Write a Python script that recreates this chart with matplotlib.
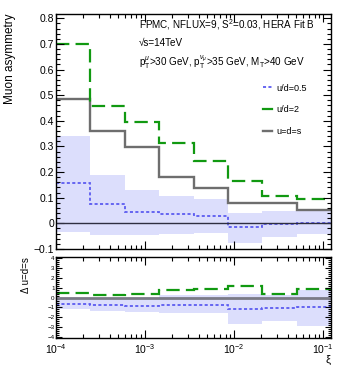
import numpy as np
import matplotlib
matplotlib.use("Agg")
import matplotlib.pyplot as plt
from matplotlib.lines import Line2D
from matplotlib.ticker import MultipleLocator, LogLocator, NullFormatter

plt.rcParams['font.family'] = ['Liberation Sans', 'DejaVu Sans']
plt.rcParams['mathtext.fontset'] = 'custom'
plt.rcParams['mathtext.rm'] = 'Liberation Sans'
plt.rcParams['mathtext.it'] = 'Liberation Sans:italic'

# xi bin edges
edges = [1.0e-4, 2.43e-4, 5.9e-4, 1.44e-3, 3.5e-3, 8.5e-3, 2.07e-2, 5.03e-2, 0.1222]

# muon asymmetry per bin
asym_ud05 = [0.156, 0.074, 0.045, 0.036, 0.027, -0.016, -0.003, 0.000]
asym_ud2 = [0.700, 0.458, 0.397, 0.312, 0.245, 0.165, 0.107, 0.094]
asym_uds = [0.487, 0.362, 0.298, 0.182, 0.137, 0.081, 0.081, 0.052]
band_hi = [0.341, 0.189, 0.130, 0.108, 0.094, 0.039, 0.048, 0.055]
band_lo = [-0.033, -0.046, -0.045, -0.042, -0.038, -0.076, -0.055, -0.040]

# difference to u=d=s
diff_ud05 = [-0.67, -0.80, -0.83, -0.80, -0.80, -1.21, -1.07, -1.00]
diff_ud2 = [0.45, 0.27, 0.34, 0.72, 0.82, 1.12, 0.34, 0.82]
diff_hi = [-0.15, -0.08, -0.08, 0.25, 0.25, 0.32, 0.25, 0.76]
diff_lo = [-1.17, -1.38, -1.45, -1.54, -1.60, -2.72, -2.36, -2.86]

labels = ['u/d=0.5', 'u/d=2', 'u=d=s']

blue = '#5c5cf0'
green = '#119911'
grey = '#6e6e6e'
band_col = '#dcdefc'

fig = plt.figure(figsize=(3.49, 3.65), dpi=100)
W, H = 349, 365
ax = fig.add_axes([56 / W, (H - 249) / H, 275 / W, 235 / H])
rx = fig.add_axes([56 / W, (H - 338) / H, 275 / W, 81 / H])

# main panel
ax.stairs(band_hi, edges, baseline=band_lo, fill=True, color=band_col, lw=0)
ax.axhline(0, color='#2e2e40', lw=1.0)
ax.stairs(asym_uds, edges, baseline=None, color=grey, lw=1.7)
ax.stairs(asym_ud2, edges, baseline=None, color=green, lw=1.6, ls=(0, (6, 2.8)))
ax.stairs(asym_ud05, edges, baseline=None, color=blue, lw=1.3, ls=(0, (1.7, 1.3)))

# ratio panel
rx.stairs(diff_hi, edges, baseline=diff_lo, fill=True, color=band_col, lw=0)
rx.axhline(0, color='#7a7a86', lw=2.0)
rx.stairs(diff_ud2, edges, baseline=None, color=green, lw=1.6, ls=(0, (6, 2.8)))
rx.stairs(diff_ud05, edges, baseline=None, color=blue, lw=1.3, ls=(0, (1.7, 1.3)))

for a in (ax, rx):
    a.set_xscale('log')
    a.set_xlim(edges[0], edges[-1])
    a.xaxis.set_major_locator(LogLocator(base=10, numticks=10))
    a.xaxis.set_minor_locator(LogLocator(base=10, subs=np.arange(2, 10), numticks=10))
    a.tick_params(which='both', direction='in', top=True, right=True, width=0.8)
    a.tick_params(which='major', length=6)
    a.tick_params(which='minor', length=3)
    for s in a.spines.values():
        s.set_linewidth(1.0)

ax.set_ylim(-0.1, 0.817)
ax.yaxis.set_major_locator(MultipleLocator(0.1))
ax.yaxis.set_minor_locator(MultipleLocator(0.02))
ax.xaxis.set_major_formatter(NullFormatter())
ax.tick_params(axis='y', labelsize=7.5, pad=1.5)
ax.set_yticks([-0.1, 0, 0.1, 0.2, 0.3, 0.4, 0.5, 0.6, 0.7, 0.8])
ax.set_yticklabels(['\u22120.1', '0', '0.1', '0.2', '0.3', '0.4', '0.5', '0.6', '0.7', '0.8'])
ax.set_ylabel('Muon asymmetry', fontsize=8.5, loc='top')
ax.yaxis.set_label_coords(-40 / 275, 1.0)

rx.set_ylim(-4.1, 4.1)
rx.yaxis.set_major_locator(MultipleLocator(1))
rx.yaxis.set_minor_locator(MultipleLocator(0.2))
rx.tick_params(axis='y', labelsize=4.5, pad=1)
rx.tick_params(axis='y', which='major', length=4)
rx.tick_params(axis='y', which='minor', length=2)
rx.set_yticks(range(-4, 5))
rx.set_yticklabels(['\u22124', '\u22123', '\u22122', '\u22121', '0', '1', '2', '3', '4'])
rx.tick_params(axis='x', labelsize=7.5, pad=3)
rx.set_ylabel('\u0394 u=d=s', fontsize=7, loc='top')
rx.yaxis.set_label_coords(-25 / 275, 1.0)
rx.set_xlabel('\u03be', fontsize=8, loc='right', labelpad=-1)

# annotations
ax.text(139 / W, (H - 25) / H, 'FPMC, NFLUX=9, S$^{2}$=0.03, HERA Fit B',
        transform=fig.transFigure, fontsize=7.1, va='center')
ax.text(139 / W, (H - 43) / H, '\u221as=14TeV',
        transform=fig.transFigure, fontsize=7.1, va='center')
ax.text(139 / W, (H - 62) / H,
        'p$_{\\mathrm{T}}^{\\mu}$>30 GeV, p$_{\\mathrm{T}}^{\\nu_{\\mu}}$>35 GeV, M$_{\\mathrm{T}}$>40 GeV',
        transform=fig.transFigure, fontsize=7.1, va='center')

handles = [
    Line2D([], [], color=blue, lw=1.3, ls=(0, (1.7, 1.3))),
    Line2D([], [], color=green, lw=1.6),
    Line2D([], [], color=grey, lw=1.7),
]
fig.legend(handles, labels, loc='upper left', bbox_to_anchor=(258 / W, (H - 79) / H),
           frameon=False, fontsize=6.5, handlelength=1.1, handletextpad=0.4,
           labelspacing=1.4, borderpad=0)

fig.savefig('out.png', dpi=100)
